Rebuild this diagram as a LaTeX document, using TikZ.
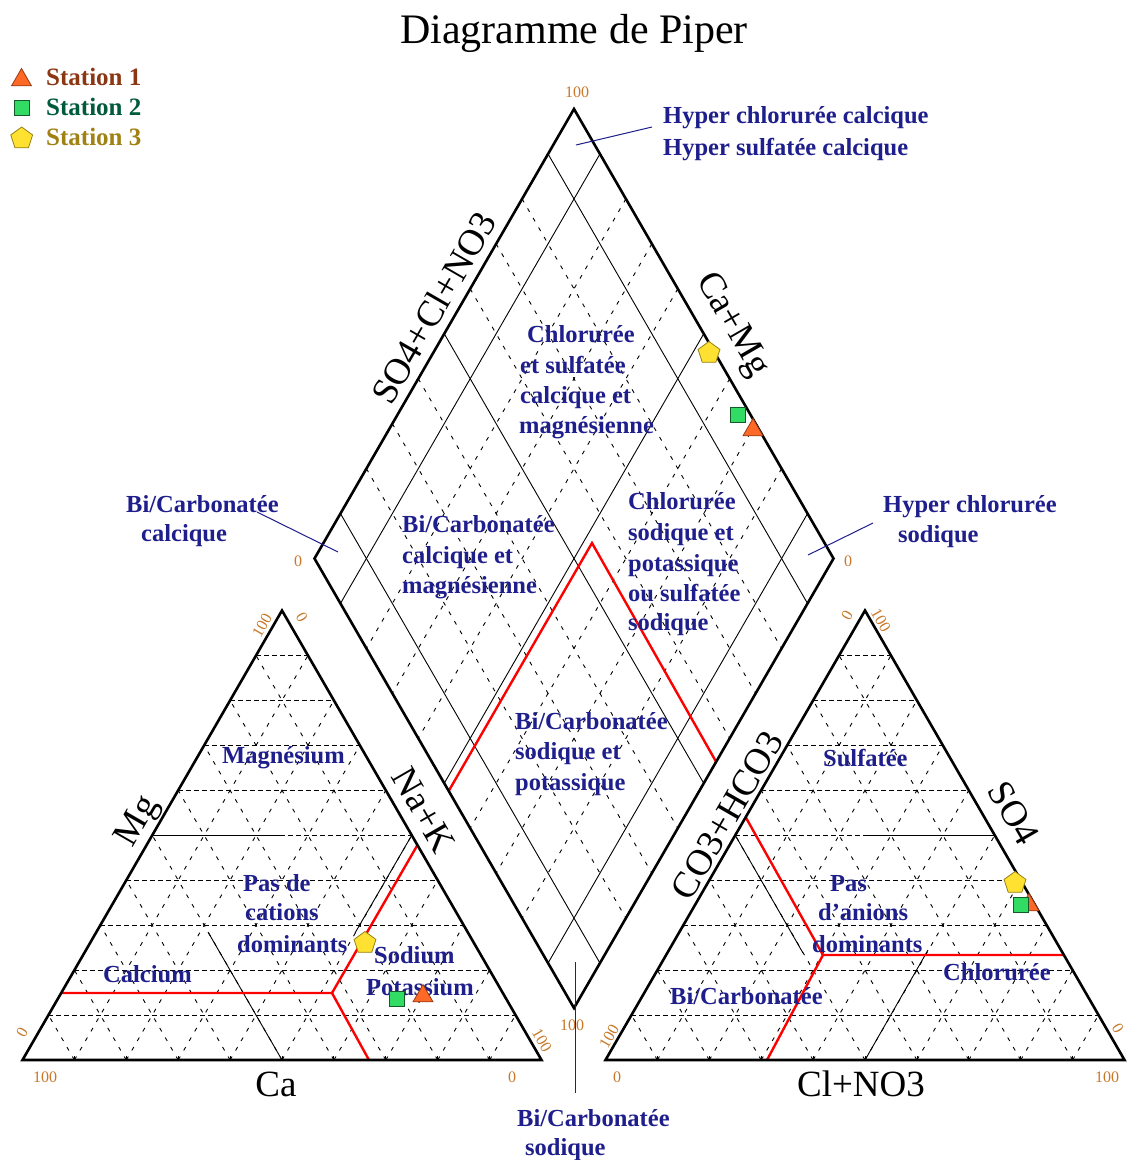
\documentclass[tikz,border=0pt]{standalone}
\usepackage{fontspec}
\setmainfont{Liberation Serif}
\usetikzlibrary{calc,shapes.geometric}
\definecolor{navy}{RGB}{30,30,140}
\definecolor{tickc}{RGB}{200,120,40}
\definecolor{st1}{RGB}{140,55,20}
\definecolor{st2}{RGB}{0,90,60}
\definecolor{st3}{RGB}{160,130,20}
\definecolor{mk1}{RGB}{255,105,40}
\definecolor{mk1d}{RGB}{150,60,20}
\definecolor{mk2}{RGB}{50,220,100}
\definecolor{mk2d}{RGB}{20,90,40}
\definecolor{mk3}{RGB}{255,225,50}
\definecolor{mk3d}{RGB}{150,130,20}
\begin{document}
\begin{tikzpicture}[x=1pt,y=-1pt,
  bord/.style={line width=2.6pt, line join=miter, black},
  hgrid/.style={line width=0.9pt, dash pattern=on 4.5pt off 3.5pt},
  dgrid/.style={line width=0.9pt, dash pattern=on 4pt off 7pt},
  sgrid/.style={line width=0.9pt},
  btick/.style={line width=0.8pt},
  redl/.style={line width=2.4pt, red, line join=miter},
  leadr/.style={line width=1pt, navy},
  rlab/.style={font=\fontsize{24.5}{26}\selectfont\bfseries, text=navy, inner sep=0pt, anchor=base west},
  axl/.style={font=\fontsize{37}{40}\selectfont, inner sep=0pt, text height=24.5pt, text depth=0pt, anchor=center},
  tickl/.style={font=\fontsize{16}{18}\selectfont, text=tickc, inner sep=0pt, text height=10.6pt, text depth=0pt, anchor=center},
  legl/.style={font=\fontsize{25}{27}\selectfont\bfseries, inner sep=0pt, anchor=base west},
  mka/.style={regular polygon, regular polygon sides=3, minimum size=23pt, inner sep=0pt, fill=mk1, draw=mk1d, line width=0.8pt},
  mkb/.style={rectangle, minimum size=15pt, inner sep=0pt, fill=mk2, draw=mk2d, line width=0.8pt},
  mkc/.style={regular polygon, regular polygon sides=5, minimum size=23pt, inner sep=0pt, fill=mk3, draw=mk3d, line width=0.8pt}
]
\useasboundingbox (0,0) rectangle (1128,1160);
\fill[white] (0,0) rectangle (1128,1160);

% main vertices
\coordinate (A) at (22.5,1060);
\coordinate (B) at (541.5,1060);
\coordinate (C) at (282,610.5);
\coordinate (D) at (605.5,1060);
\coordinate (E) at (1124.5,1060);
\coordinate (F) at (865,610.5);
\coordinate (T) at (574,109);
\coordinate (L) at (314.5,558.5);
\coordinate (R) at (833.5,558.5);
\coordinate (Bt) at (574,1008);

% triangle grids
\foreach \pa/\pb/\pc in {A/B/C, D/E/F} {
  \foreach \k in {1,...,9} {
    \draw[hgrid] ($(\pa)!\k/10!(\pc)$) -- ($(\pb)!\k/10!(\pc)$);
    \draw[dgrid] ($(\pa)!\k/10!(\pb)$) -- ($(\pa)!\k/10!(\pc)$);
    \draw[dgrid] ($(\pb)!\k/10!(\pa)$) -- ($(\pb)!\k/10!(\pc)$);
    \draw[btick] ($(\pa)!\k/10!(\pb)$) -- ++(0,-4);
  }
}

% diamond grid
\foreach \k in {2,3,4,6,7,8} {
  \draw[dgrid] ($(R)!\k/10!(T)$) -- ($(Bt)!\k/10!(L)$);
  \draw[dgrid] ($(L)!\k/10!(T)$) -- ($(Bt)!\k/10!(R)$);
}
\foreach \k in {1,5,9} {
  \draw[sgrid] ($(R)!\k/10!(T)$) -- ($(Bt)!\k/10!(L)$);
  \draw[sgrid] ($(L)!\k/10!(T)$) -- ($(Bt)!\k/10!(R)$);
}

% partial solid 50% lines in triangles
\draw[sgrid] ($(A)!0.5!(C)$) -- (283,835.25);
\draw[sgrid] ($(A)!0.5!(B)$) -- (208,932);
\draw[sgrid] ($(B)!0.5!(C)$) -- (355,933);
\draw[sgrid] (865,835.25) -- ($(E)!0.5!(F)$);
\draw[sgrid] ($(D)!0.5!(F)$) -- (803,953);
\draw[sgrid] ($(D)!0.5!(E)$) -- (928,950);

% red classification lines
\coordinate (rl) at (332,993);
\coordinate (rr) at (823,955);
\coordinate (rp) at (592,543);
\draw[redl] (61,993) -- (rl) -- (369,1060);
\draw[redl] (rl) -- (417.3,845.3);
\draw[redl] (448.8,790.8) -- (rp) -- (716,761.6);
\draw[redl] (745.6,817) -- (rr) -- (1063.8,955);
\draw[redl] (rr) -- (767,1060);

% outlines
\draw[bord] (A) -- (B) -- (C) -- cycle;
\draw[bord] (D) -- (E) -- (F) -- cycle;
\draw[bord] (T) -- (R) -- (Bt) -- (L) -- cycle;

% title
\node[font=\fontsize{42}{46}\selectfont, inner sep=0pt, anchor=base] (title) at (574,43) {Diagramme de Piper};

% legend
\node[mka] (lg1) at (21.5,80) {};
\node[mkb] (lg2) at (21.7,108) {};
\node[mkc] (lg3) at (21.7,138.5) {};
\node[legl, text=st1] (lt1) at (46,85) {Station 1};
\node[legl, text=st2] (lt2) at (46,115) {Station 2};
\node[legl, text=st3] (lt3) at (46,145) {Station 3};

% axis labels
\node[axl, rotate=60] (ax1) at (434,308) {SO4+Cl+NO3};
\node[axl, rotate=-60] (ax2) at (735,323) {Ca+Mg};
\node[axl, rotate=60] (ax3) at (135,820) {Mg};
\node[axl, rotate=-60] (ax4) at (424,810) {Na+K};
\node[axl, rotate=60] (ax5) at (727,815) {CO3+HCO3};
\node[axl, rotate=-60] (ax6) at (1014,813) {SO4};
\node[axl] (ax7) at (276,1084) {Ca};
\node[axl] (ax8) at (861,1084) {Cl+NO3};

% tick numbers
\node[tickl] (n1) at (577,92) {100};
\node[tickl] (n2) at (298,561) {0};
\node[tickl] (n3) at (848,561) {0};
\node[tickl] (n4) at (572,1025) {100};
\node[tickl, rotate=60] (n5) at (262,625) {100};
\node[tickl, rotate=-60] (n6) at (302,617) {0};
\node[tickl, rotate=60] (n7) at (22,1032) {0};
\node[tickl, rotate=-60] (n8) at (542,1040) {100};
\node[tickl] (n9) at (45,1077) {100};
\node[tickl] (n10) at (512,1077) {0};
\node[tickl] (n11) at (617,1077) {0};
\node[tickl] (n12) at (1107,1077) {100};
\node[tickl, rotate=60] (n13) at (609,1036) {100};
\node[tickl, rotate=60] (n14) at (847,615) {0};
\node[tickl, rotate=-60] (n15) at (881,620) {100};
\node[tickl, rotate=-60] (n16) at (1118,1028) {0};

% outside region labels with leaders
\node[rlab] (h1) at (663,123) {Hyper chlorurée calcique};
\node[rlab] (h2) at (663,155) {Hyper sulfatée calcique};
\coordinate (h1a) at (652,127);
\coordinate (h1b) at (576,145);
\draw[leadr] (h1a) -- (h1b);

\node[rlab] (bc1) at (126,512) {Bi/Carbonatée};
\node[rlab] (bc2) at (141,541) {calcique};
\coordinate (bca) at (257,512);
\coordinate (bcb) at (338,552);
\draw[leadr] (bca) -- (bcb);

\node[rlab] (hs1) at (883,512) {Hyper chlorurée};
\node[rlab] (hs2) at (898,542) {sodique};
\coordinate (hsa) at (873,523);
\coordinate (hsb) at (808,555);
\draw[leadr] (hsa) -- (hsb);

\node[rlab] (bs1) at (517,1126) {Bi/Carbonatée};
\node[rlab] (bs2) at (525,1155) {sodique};
\coordinate (bsa) at (575,1093);
\coordinate (bsb) at (575,962);
\draw[leadr] (bsa) -- (bsb);

% diamond labels
\node[rlab] (d1) at (527,342) {Chlorurée};
\node[rlab] (d2) at (520,373) {et sulfatée};
\node[rlab] (d3) at (520,403) {calcique et};
\node[rlab] (d4) at (519,433) {magnésienne};

\node[rlab] (e1) at (402,532) {Bi/Carbonatée};
\node[rlab] (e2) at (402,563) {calcique et};
\node[rlab] (e3) at (402,593) {magnésienne};

\node[rlab] (f1) at (628,509) {Chlorurée};
\node[rlab] (f2) at (628,540) {sodique et};
\node[rlab] (f3) at (628,571) {potassique};
\node[rlab] (f4) at (628,601) {ou sulfatée};
\node[rlab] (f5) at (628,630) {sodique};

\node[rlab] (g1) at (515,729) {Bi/Carbonatée};
\node[rlab] (g2) at (515,759) {sodique et};
\node[rlab] (g3) at (515,790) {potassique};

% left triangle labels
\node[rlab] (c1) at (222,763) {Magnésium};
\node[rlab] (c2) at (243,891) {Pas de};
\node[rlab] (c3) at (245,920) {cations};
\node[rlab] (c4) at (237,952) {dominants};
\node[rlab] (c5) at (103,982) {Calcium};
\node[rlab] (c6) at (374,963) {Sodium};
\node[rlab] (c7) at (366,995) {Potassium};

% right triangle labels
\node[rlab] (a1) at (823,766) {Sulfatée};
\node[rlab] (a2) at (830,891) {Pas};
\node[rlab] (a3) at (818,920) {d'anions};
\node[rlab] (a4) at (812,952) {dominants};
\node[rlab] (a5) at (670,1004) {Bi/Carbonatée};
\node[rlab] (a6) at (943,980) {Chlorurée};

% data points
\node[mka] (p1l) at (423,996) {};
\node[mka] (p1d) at (753,430) {};
\node[mka] (p1r) at (1029,905) {};
\node[mkb] (p2l) at (397,999) {};
\node[mkb] (p2d) at (738,415) {};
\node[mkb] (p2r) at (1021,905) {};
\node[mkc] (p3l) at (365,943) {};
\node[mkc] (p3d) at (709,353) {};
\node[mkc] (p3r) at (1015,883) {};
\end{tikzpicture}
\end{document}
